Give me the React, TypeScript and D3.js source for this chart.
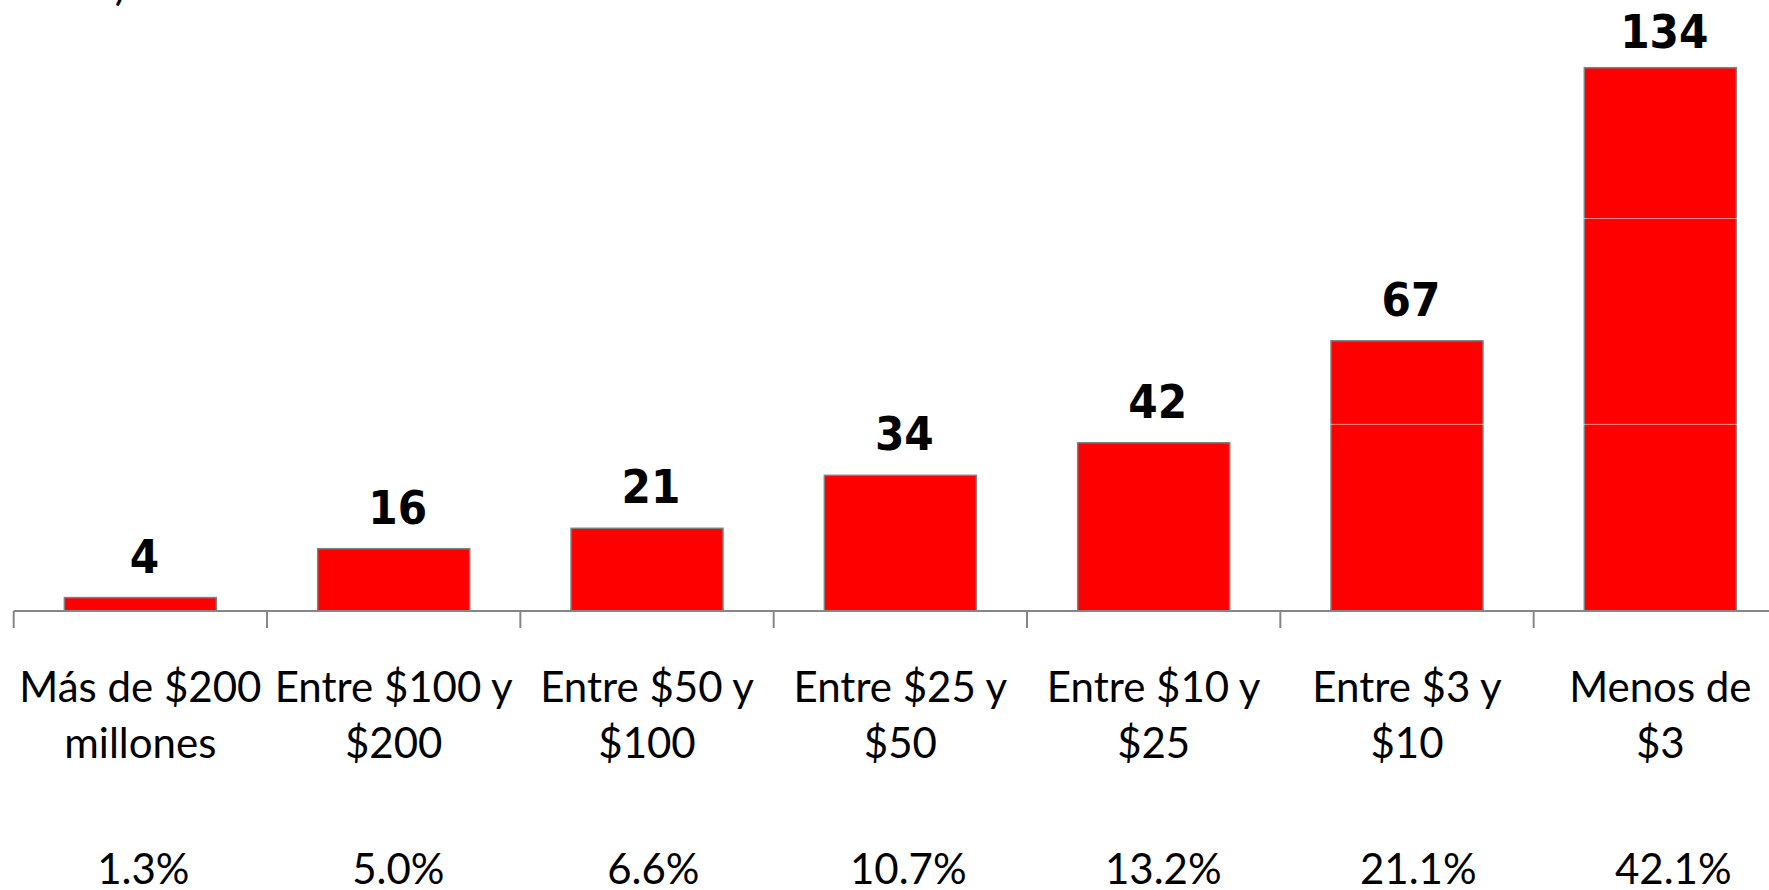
import React from "react";
import * as d3 from "d3";

const categories: string[][] = [
  ["Más de $200", "millones"],
  ["Entre $100 y", "$200"],
  ["Entre $50 y", "$100"],
  ["Entre $25 y", "$50"],
  ["Entre $10 y", "$25"],
  ["Entre $3 y", "$10"],
  ["Menos de", "$3"],
];
const values: number[] = [4, 16, 21, 34, 42, 67, 134];
const shares: string[] = ["1.3%", "5.0%", "6.6%", "10.7%", "13.2%", "21.1%", "42.1%"];
const seamValues: number[] = [46.5, 97];

const W = 1769;
const H = 890;

export default function App() {
  const keys = categories.map((_, i) => String(i));
  const x = d3.scaleBand<string>().domain(keys).range([13.7, 1787]).paddingInner(0.4).paddingOuter(0.2);
  const xs = d3.scaleBand<string>().domain(keys).range([15.8, 1800.8]);
  const y = d3.scaleLinear().domain([0, d3.max(values) as number]).range([613.9, 67.7]);
  const axisY = 611;
  const step = x.step();
  const start = x.range()[0];
  const catFont = "Lato, 'Open Sans', sans-serif";
  const lblFont = "'DejaVu Sans Condensed', 'DejaVu Sans', sans-serif";

  return (
    <svg width={W} height={H} style={{ position: "absolute", left: 0, top: 0, background: "#fff" }}>
      <text x={126} y={0} textAnchor="end" fontFamily={catFont} fontSize={42} fill="#000">
        millones)
      </text>
      {/* bars */}
      {values.map((v, i) => (
        <rect
          key={"b" + i}
          x={x(String(i))}
          y={y(v)}
          width={x.bandwidth()}
          height={axisY - y(v)}
          fill="#ff0000"
          stroke="#808080"
          strokeWidth={1.5}
        />
      ))}
      {/* faint seams over bars */}
      {seamValues.map((s, j) => (
        <line key={"s" + j} x1={0} x2={W} y1={y(s)} y2={y(s)} stroke="#ffffff" strokeOpacity={0.55} strokeWidth={1} />
      ))}
      {/* axis */}
      <line x1={start} x2={W} y1={axisY} y2={axisY} stroke="#868686" strokeWidth={2} />
      {keys.map((k, i) => (
        <line
          key={"t" + i}
          x1={start + i * step}
          x2={start + i * step}
          y1={axisY}
          y2={axisY + 17}
          stroke="#868686"
          strokeWidth={2}
        />
      ))}
      {/* value labels */}
      {values.map((v, i) => (
        <text
          key={"l" + i}
          x={(x(String(i)) as number) + x.bandwidth() / 2 + 4}
          y={Math.max(y(v) - 25, 48)}
          textAnchor="middle"
          fontFamily={lblFont}
          fontStretch="condensed"
          fontWeight="bold"
          fontSize={47}
          fill="#000"
        >
          {v}
        </text>
      ))}
      {/* category labels */}
      {categories.map((lines, i) => (
        <text
          key={"c" + i}
          x={(x(String(i)) as number) + x.bandwidth() / 2}
          y={701.7}
          textAnchor="middle"
          fontFamily={catFont}
          fontSize={42}
          fill="#000"
        >
          {lines.map((ln, j) => (
            <tspan key={j} x={(x(String(i)) as number) + x.bandwidth() / 2} dy={j === 0 ? 0 : 56.6}>
              {ln}
            </tspan>
          ))}
        </text>
      ))}
      {/* shares */}
      {shares.map((s, i) => (
        <text
          key={"p" + i}
          x={(xs(String(i)) as number) + xs.bandwidth() / 2}
          y={884}
          textAnchor="middle"
          fontFamily={catFont}
          fontSize={42}
          fill="#000"
        >
          {s}
        </text>
      ))}
    </svg>
  );
}
